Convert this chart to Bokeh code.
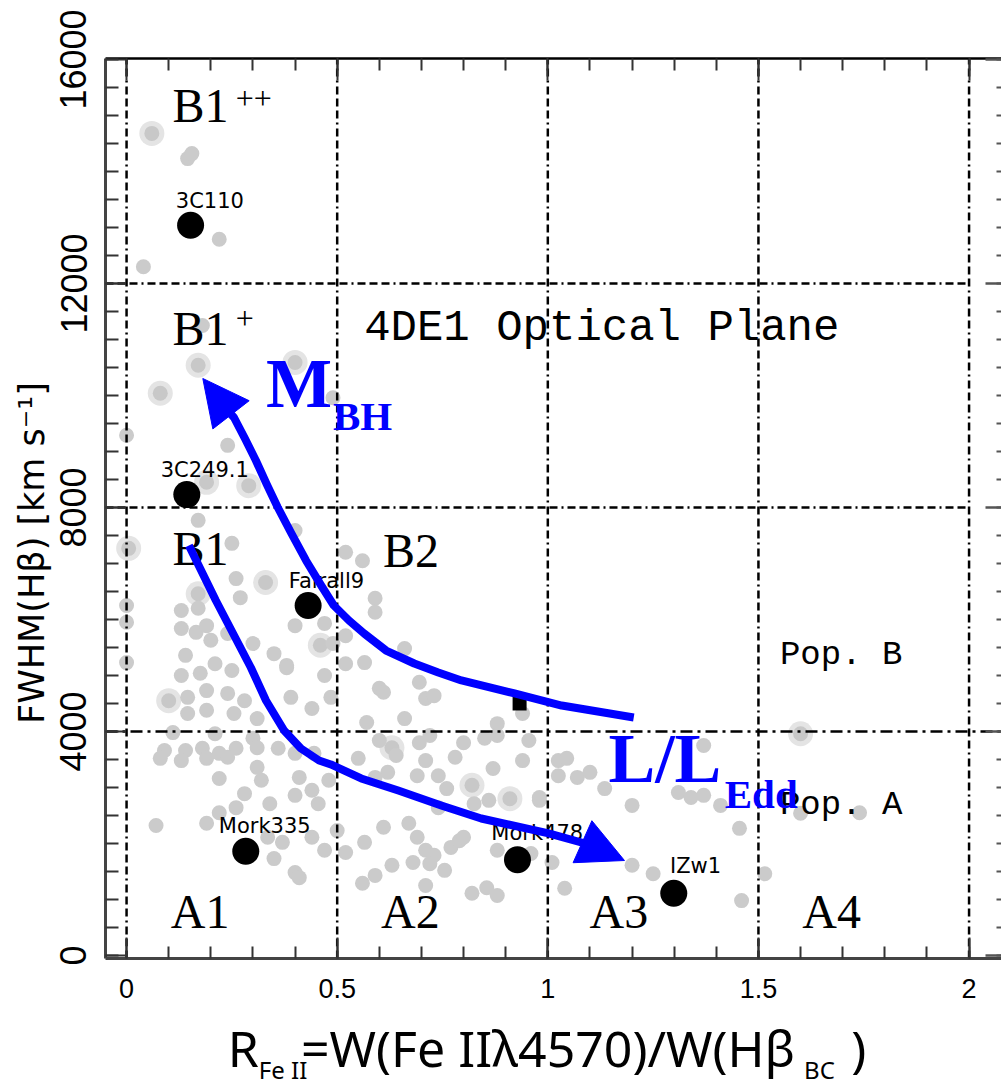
from bokeh.plotting import figure
from bokeh.models import Range1d, LinearAxis, SingleIntervalTicker, Arrow, NormalHead
from bokeh.layouts import column
from bokeh.embed import file_html
from bokeh.resources import INLINE
from bokeh.core.properties import value

# ---------------- data ----------------
gray_x = [0.145, 0.155, 0.22, 0.04, 0.18, 0.49, 0.24, 0.00, 0.17, 0.25, 0.40, 0.26, 0.27, 0.00, 0.00,
          0.13, 0.17, 0.13, 0.165, 0.19, 0.20, 0.24, 0.30, 0.40, 0.47, 0.14, 0.00, 0.21, 0.35, 0.38,
          0.52, 0.56, 0.59, 0.59, 0.52, 0.49, 0.66, 0.565, 0.52, 0.13, 0.175, 0.25, 0.38, 0.47, 0.145,
          0.19, 0.24, 0.28, 0.145, 0.19, 0.255, 0.31, 0.39, 0.44, 0.485, 0.11, 0.21, 0.30, 0.09, 0.14,
          0.18, 0.22, 0.26, 0.31, 0.36, 0.08, 0.13, 0.19, 0.24, 0.40, 0.445, 0.31, 0.22, 0.32, 0.41,
          0.44, 0.48, 0.28, 0.40, 0.34, 0.455, 0.22, 0.26, 0.07, 0.19, 0.335, 0.37, 0.44, 0.47, 0.35,
          0.40, 0.41, 0.60, 0.61, 0.695, 0.71, 0.73, 0.57, 0.66, 0.88, 0.94, 0.60, 0.64, 0.695, 0.72,
          0.80, 0.85, 0.88, 0.955, 0.55, 0.62, 0.71, 0.78, 0.87, 0.94, 0.69, 0.74, 0.59, 0.76, 0.825,
          0.86, 0.98, 0.74, 0.50, 0.565, 0.61, 0.67, 0.69, 0.71, 0.73, 0.77, 0.79, 0.80, 0.52, 0.63,
          0.68, 0.72, 0.755, 0.88, 0.96, 0.56, 0.59, 0.71, 0.82, 0.855, 0.88, 1.025, 1.045, 1.025, 1.07,
          1.10, 1.135, 1.20, 0.98, 1.01, 1.04, 1.20, 1.25, 1.37, 1.31, 1.34, 1.37, 1.41, 1.455, 1.60,
          1.74, 1.515, 1.46]
gray_y = [14230, 14320, 12790, 12300, 11250, 9960, 9110, 9290, 7770, 7360, 7590, 6730, 6390, 6250, 5950,
          6160, 6200, 5840, 5770, 5890, 5630, 5750, 5570, 5890, 5930, 5360, 5230, 5210, 5390, 5180,
          7200, 7050, 6380, 6130, 5710, 5570, 5480, 5230, 5210, 5000, 5040, 5090, 5140, 5000, 4610,
          4730, 4680, 4550, 4320, 4380, 4320, 4230, 4610, 4410, 4610, 3980, 3960, 3880, 3660, 3660,
          3700, 3610, 3700, 3710, 3700, 3520, 3480, 3520, 3540, 3610, 3610, 3360, 3160, 3130, 3180,
          2950, 3130, 2890, 2860, 2710, 2710, 2550, 2640, 2320, 2360, 2110, 2020, 2110, 1880, 1730,
          1480, 1390, 4770, 4700, 4880, 4590, 4640, 4160, 4230, 4140, 4320, 3840, 3570, 3800, 3930,
          3800, 3880, 3930, 3840, 3520, 3270, 3480, 3540, 3340, 3480, 3210, 3210, 3180, 2980, 2710,
          2770, 2770, 2640, 2230, 2020, 2290, 2360, 2110, 1880, 1790, 1930, 2050, 2110, 1840, 1610,
          1660, 1640, 1520, 1880, 1820, 1290, 1430, 1250, 1110, 1210, 1070, 3480, 3520, 3210, 3180,
          3270, 2980, 2680, 2820, 1660, 1200, 1610, 1460, 3750, 2910, 2820, 2860, 2680, 2270, 2540,
          2550, 1460, 980]

ring_x = [0.06, 0.17, 0.08, 0.40, 0.19, 0.29, 0.005, 0.33, 0.17, 0.46, 0.10, 0.63, 0.82, 0.91, 1.60]
ring_y = [14680, 10540, 10040, 10590, 8450, 8390, 7270, 6660, 6460, 5540, 4550, 3710, 3040, 2800, 3960]

named = ["3C110", "3C249.1", "Fairall9", "Mork335", "Mork478", "IZw1"]
named_x = [0.152, 0.143, 0.431, 0.283, 0.928, 1.299]
named_y = [13040, 8230, 6250, 1860, 1710, 1110]
square_x = [0.933]
square_y = [4500]

mbh_x = [1.204, 1.033, 0.921, 0.795, 0.740, 0.683, 0.616, 0.564, 0.528, 0.492, 0.462, 0.426,
         0.390, 0.359, 0.333, 0.307, 0.281, 0.255, 0.240]
mbh_y = [4250, 4464, 4679, 4911, 5054, 5214, 5446, 5750, 5982, 6250, 6607, 7054,
         7554, 8000, 8411, 8839, 9232, 9607, 9732]
mbh_tip = (0.181, 10304)

ledd_x = [0.148, 0.212, 0.295, 0.331, 0.374, 0.414, 0.457, 0.485, 0.557, 0.645, 0.747, 0.842,
          1.002, 1.097]
ledd_y = [7321, 6339, 5143, 4554, 4018, 3696, 3482, 3411, 3161, 2946, 2679, 2446,
          2179, 1982]
ledd_tip = (1.182, 1696)

grid_x = [0, 0.5, 1, 1.5, 2]
grid_y = [8000, 12000]
pop_y = [4000]

x_tick_labels = {0: "0", 0.5: "0.5", 1: "1", 1.5: "1.5", 2: "2"}

# ---------------- main figure ----------------
X0, X1 = -0.05, 2.077
Y0, Y1 = -54, 16018
p = figure(width=1001, height=1010, x_range=Range1d(X0, X1), y_range=Range1d(Y0, Y1),
           title=None, output_backend="svg", toolbar_location=None, x_axis_type=None, y_axis_type=None,
           min_border_left=105, min_border_right=0, min_border_top=58, min_border_bottom=52)
p.outline_line_color = None
p.background_fill_color = "white"
p.border_fill_color = "white"

xt = SingleIntervalTicker(interval=0.5, num_minor_ticks=5)
yt = SingleIntervalTicker(interval=4000, num_minor_ticks=8)

bottom = LinearAxis(ticker=xt, major_label_overrides=x_tick_labels,
                    major_tick_in=21, major_tick_out=0, minor_tick_in=12, minor_tick_out=0,
                    major_tick_line_width=2, minor_tick_line_width=2,
                    major_tick_line_color="#333333", minor_tick_line_color="#333333",
                    axis_line_color="#444444", axis_line_width=3,
                    major_label_text_font="Liberation Sans", major_label_text_font_size="27px",
                    major_label_text_color="black", major_label_standoff=20)
p.add_layout(bottom, "below")

left = LinearAxis(ticker=yt, major_tick_in=20, major_tick_out=0, minor_tick_in=13, minor_tick_out=0,
                  major_tick_line_width=2, minor_tick_line_width=2,
                  major_tick_line_color="#333333", minor_tick_line_color="#333333",
                  axis_line_color="#444444", axis_line_width=3,
                  major_label_text_font="Liberation Sans", major_label_text_font_size="36px",
                  major_label_text_color="black", major_label_orientation="vertical",
                  major_label_standoff=19,
                  axis_label="FWHM(H\u03b2) [km s\u207b\u00b9]" + "\u00a0" * 8,
                  axis_label_text_font="DejaVu Sans", axis_label_text_font_size="35px",
                  axis_label_text_font_style="normal", axis_label_text_color="black",
                  axis_label_standoff=6)
p.add_layout(left, "left")

top = LinearAxis(ticker=xt, major_tick_in=22, major_tick_out=0, minor_tick_in=12, minor_tick_out=0,
                 major_tick_line_width=2, minor_tick_line_width=2,
                 major_tick_line_color="#333333", minor_tick_line_color="#333333",
                 axis_line_color="black", axis_line_width=2.5,
                 major_label_text_font_size="1px", major_label_text_alpha=0, major_label_standoff=0)
p.add_layout(top, "above")

right = LinearAxis(ticker=yt, major_tick_in=16, major_tick_out=0, minor_tick_in=5, minor_tick_out=0,
                   major_tick_line_width=2.5, minor_tick_line_width=2,
                   major_tick_line_color="#555555", minor_tick_line_color="#555555",
                   axis_line_color=None,
                   major_label_text_font_size="1px", major_label_text_alpha=0, major_label_standoff=0)
p.add_layout(right, "right")

# gray sample
p.scatter(ring_x, ring_y, size=25, fill_color="#e4e4e4", line_color=None)
p.scatter(ring_x, ring_y, size=15, fill_color="#c8c8c8", line_color=None)
p.scatter(gray_x, gray_y, size=15, fill_color="#cbcbcb", line_color=None)

# partition lines
p.segment(x0=grid_x, y0=[Y0] * len(grid_x), x1=grid_x, y1=[Y1] * len(grid_x),
          line_color="black", line_width=2.5, line_dash="8 4 8 4 8 4 2 4")
p.segment(x0=[X0] * len(grid_y), y0=grid_y, x1=[grid_x[-1]] * len(grid_y), y1=grid_y,
          line_color="black", line_width=2.5, line_dash="8 4 8 4 8 4 2 4")
p.segment(x0=[X0], y0=pop_y, x1=[X1], y1=pop_y,
          line_color="black", line_width=2.5, line_dash="12 5 3 5")

# named objects
p.scatter(named_x, named_y, size=27, fill_color="black", line_color=None)
p.scatter(square_x, square_y, marker="square", size=14, fill_color="black", line_color=None)

lab_x = [0.117, 0.081, 0.385, 0.219, 0.866, 1.290]
lab_y = [13357, 8536, 6571, 2196, 2054, 1464]
p.text(x=lab_x, y=lab_y, text=named, text_font=value("DejaVu Sans"), text_font_size="21px",
       text_baseline="alphabetic", text_align="left", text_color="black", y_offset=-7)

# region labels
reg_txt = ["B1", "B1", "B1", "B2", "A1", "A2", "A3", "A4"]
reg_x = [0.109, 0.109, 0.109, 0.609, 0.105, 0.604, 1.099, 1.604]
reg_y = [14875, 10893, 6964, 6929, 482, 482, 482, 482]
p.text(x=reg_x, y=reg_y, text=reg_txt, text_font=value("Liberation Serif"), text_font_size="48px",
       text_baseline="alphabetic", text_align="left", text_color="black", y_offset=-17)
p.text(x=[0.259, 0.259], y=[15107, 11179], text=["++", "+"], text_font=value("Liberation Serif"),
       text_font_size="32px", text_baseline="alphabetic", text_align="left", text_color="black",
       y_offset=-11)

p.text(x=[0.564], y=[10929], text=["4DE1 Optical Plane"], text_font=value("Liberation Mono"),
       text_font_size="44px", text_baseline="alphabetic", text_align="left", text_color="black",
       y_offset=-15)
p.text(x=[1.551, 1.551], y=[5143, 2464], text=["Pop. B", "Pop. A"], text_font=value("Liberation Mono"),
       text_font_size="34px", text_baseline="alphabetic", text_align="left", text_color="black",
       y_offset=-12)

# trend arrows
p.line(mbh_x, mbh_y, line_color="blue", line_width=8, line_join="round")
p.line(ledd_x, ledd_y, line_color="blue", line_width=8, line_join="round")
p.add_layout(Arrow(end=NormalHead(size=46, fill_color="blue", line_color="blue"),
                   x_start=mbh_x[-1], y_start=mbh_y[-1], x_end=mbh_tip[0], y_end=mbh_tip[1],
                   line_color="blue", line_width=8))
p.add_layout(Arrow(end=NormalHead(size=46, fill_color="blue", line_color="blue"),
                   x_start=ledd_x[-1], y_start=ledd_y[-1], x_end=ledd_tip[0], y_end=ledd_tip[1],
                   line_color="blue", line_width=8))

p.text(x=[0.331, 1.144], y=[9768, 3071], text=["M", "L/L"], text_font=value("Liberation Serif"),
       text_font_size="70px", text_font_style="bold", text_baseline="alphabetic", text_color="blue",
       y_offset=-25)
p.text(x=[0.490, 1.420], y=[9375, 2625], text=["BH", "Edd"], text_font=value("Liberation Serif"),
       text_font_size="41px", text_font_style="bold", text_baseline="alphabetic", text_color="blue",
       y_offset=-14)

# ---------------- x-axis title strip (page-pixel coordinates) ----------------
q = figure(width=1001, height=77, x_range=Range1d(105, 999), y_range=Range1d(77, 0),
           title=None, output_backend="svg", toolbar_location=None, x_axis_type=None, y_axis_type=None,
           min_border=0)
q.outline_line_color = None
q.background_fill_color = "white"
q.border_fill_color = "white"
q.text(x=[227, 300, 849], y=[55, 55, 55], text=["R", "=W(Fe II\u03bb4570)/W(H\u03b2", ")"],
       text_font=value("Noto Sans"), text_font_size="50px", text_baseline="alphabetic", text_color="black",
       y_offset=-18)
q.text(x=[258, 802], y=[68, 68], text=["Fe II", "BC"],
       text_font=value("Noto Sans"), text_font_size="24px", text_baseline="alphabetic", text_color="black",
       y_offset=-9)

layout = column(p, q, spacing=0)
open("out.html", "w").write(file_html(layout, INLINE))
